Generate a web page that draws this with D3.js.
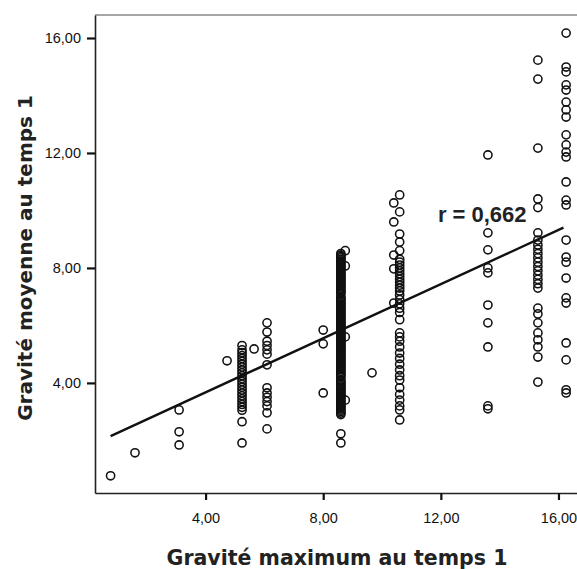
<!DOCTYPE html>
<html>
<head>
<meta charset="utf-8">
<script src="https://cdn.jsdelivr.net/npm/d3@7"></script>
<style>
  body { margin: 0; background: #fff; }
  svg { display: block; }
</style>
</head>
<body>
<svg id="chart" width="577" height="569"></svg>
<script>
// each column: one "gravité maximum" value and the "gravité moyenne" values
const colX = [0.77, 1.6, 3.1, 4.73, 5.24, 5.65, 6.09, 8.0, 8.6, 8.75, 9.66, 10.4, 10.6, 13.6, 15.3, 16.26];

const col0 = [0.77];
const col1 = [1.57];
const col2 = [3.06, 2.3, 1.84];
const col3 = [4.77];
const col4 = [5.3, 5.15, 5.05, 4.95, 4.85, 4.75, 4.65, 4.55, 4.45, 4.35, 4.25, 4.15, 4.05, 3.95,
  3.85, 3.75, 3.65, 3.55, 3.45, 3.35, 3.25, 3.15, 3.05, 2.65, 1.91];
const col5 = [5.18];
const col6 = [6.09, 5.77, 5.45, 5.3, 5.15, 5.0, 4.63, 3.83, 3.65, 3.5, 3.35, 3.2, 2.96, 2.4];
const col7 = [5.84, 5.36, 3.65];
const col8 = [8.5, 8.45, 8.4, 8.35, 8.3, 8.25, 8.2, 8.15, 8.1, 8.05, 8.0, 7.95, 7.9, 7.85, 7.8,
  7.75, 7.7, 7.65, 7.6, 7.55, 7.5, 7.45, 7.4, 7.35, 7.3, 7.25, 7.2, 7.15, 7.1, 7.0, 6.95,
  6.9, 6.85, 6.8, 6.75, 6.7, 6.65, 6.6, 6.55, 6.5, 6.45, 6.4, 6.35, 6.3, 6.25, 6.2, 6.15,
  6.1, 6.05, 6.0, 5.95, 5.9, 5.85, 5.8, 5.75, 5.7, 5.65, 5.6, 5.55, 5.5, 5.45, 5.4, 5.35,
  5.3, 5.25, 5.2, 5.15, 5.1, 5.05, 5.0, 4.95, 4.9, 4.85, 4.8, 4.75, 4.7, 4.65, 4.6, 4.55,
  4.5, 4.45, 4.4, 4.35, 4.3, 4.25, 4.2, 4.1, 4.05, 4.0, 3.95, 3.9, 3.85, 3.8, 3.75, 3.7,
  3.65, 3.6, 3.55, 3.5, 3.45, 3.4, 3.35, 3.3, 3.25, 3.2, 3.15, 3.1, 3.05, 3.0, 2.95, 2.9,
  2.23, 1.91];
const col9 = [8.6, 8.07, 5.6, 3.4];
const col10 = [4.35];
const col11 = [10.26, 9.6, 8.45, 7.97, 6.78];
const col12 = [10.54, 9.95, 9.18, 8.9, 8.6, 8.3, 8.2, 8.1, 8.0, 7.9, 7.8, 7.7, 7.6, 7.5, 7.4,
  7.3, 7.2, 7.06, 6.9, 6.75, 6.6, 6.45, 6.2, 5.74, 5.6, 5.45, 5.25, 5.04, 4.85, 4.65, 4.45,
  4.25, 4.1, 3.83, 3.6, 3.4, 3.2, 3.06, 2.71];
const col13 = [11.93, 9.22, 8.63, 8.0, 7.83, 6.71, 6.09, 5.25, 3.2, 3.1];
const col14 = [15.23, 14.57, 12.17, 10.4, 10.1, 9.22, 8.97, 8.8, 8.65, 8.5, 8.35, 8.2, 8.05,
  7.9, 7.75, 7.6, 7.45, 7.3, 6.6, 6.4, 6.09, 5.74, 5.5, 5.25, 4.9, 4.03];
const col15 = [16.17, 14.99, 14.82, 14.37, 14.19, 13.77, 13.5, 13.25, 12.63, 12.28, 12.03,
  11.86, 10.99, 10.36, 10.19, 8.97, 8.38, 8.2, 7.65, 6.96, 6.78, 5.39, 4.8, 3.76, 3.65];

const columns = [col0, col1, col2, col3, col4, col5, col6, col7, col8, col9, col10, col11, col12, col13, col14, col15];

// fit line end points and label
const fitX = [0.77, 16.17];
const fitY = [2.15, 9.4];
const rLabel = "r = 0,662";

const tickValues = [4, 8, 12, 16];
const xTitle = "Gravité maximum au temps 1";
const yTitle = "Gravité moyenne au temps 1";

const svg = d3.select("#chart");

const x = d3.scaleLinear().domain([0.24, 16.63]).range([95, 577]);
const y = d3.scaleLinear().domain([0.17, 16.8]).range([493, 15]);

const fmt = (d) => d3.format(".2f")(d).replace(".", ",");

const points = [];
columns.forEach((col, i) => col.forEach((v) => points.push([colX[i], v])));

// frame top
svg.append("line")
  .attr("x1", 95).attr("x2", 577)
  .attr("y1", 15).attr("y2", 15)
  .attr("stroke", "#888").attr("stroke-width", 1.5);

// points
svg.append("g")
  .selectAll("circle")
  .data(points)
  .join("circle")
  .attr("cx", (d) => x(d[0]))
  .attr("cy", (d) => y(d[1]))
  .attr("r", 4.1)
  .attr("fill", "none")
  .attr("stroke", "#111")
  .attr("stroke-width", 1.55);

// fit line
svg.append("path")
  .datum(fitX.map((d, i) => [d, fitY[i]]))
  .attr("d", d3.line().x((d) => x(d[0])).y((d) => y(d[1])))
  .attr("stroke", "#111")
  .attr("stroke-width", 2.4)
  .attr("fill", "none");

svg.append("text")
  .attr("x", x(11.9))
  .attr("y", y(9.6))
  .attr("font-family", "Liberation Sans, Arial, sans-serif")
  .attr("font-weight", "bold")
  .attr("font-size", 22)
  .attr("fill", "#222")
  .text(rLabel);

// axes
const yAxis = svg.append("g")
  .attr("transform", "translate(95,0)")
  .call(d3.axisLeft(y).tickValues(tickValues).tickFormat(fmt).tickSize(8).tickSizeOuter(0).tickPadding(6));

const xAxis = svg.append("g")
  .attr("transform", "translate(0,493)")
  .call(d3.axisBottom(x).tickValues(tickValues).tickFormat(fmt).tickSize(7).tickSizeOuter(0).tickPadding(13));

[xAxis, yAxis].forEach((g) => {
  g.select(".domain").attr("stroke", "#222").attr("stroke-width", 1.6);
  g.selectAll(".tick line").attr("stroke", "#111").attr("stroke-width", 2.2);
  g.selectAll(".tick text")
    .attr("font-family", "Liberation Sans, Arial, sans-serif")
    .attr("font-size", 14.5)
    .attr("fill", "#111");
});

// titles
svg.append("text")
  .attr("x", 337)
  .attr("y", 565)
  .attr("text-anchor", "middle")
  .attr("font-family", "DejaVu Sans, sans-serif")
  .attr("font-weight", "bold")
  .attr("font-size", 20.5)
  .attr("fill", "#222")
  .text(xTitle);

svg.append("text")
  .attr("transform", "translate(32,258) rotate(-90)")
  .attr("text-anchor", "middle")
  .attr("font-family", "DejaVu Sans, sans-serif")
  .attr("font-weight", "bold")
  .attr("font-size", 20)
  .attr("fill", "#222")
  .text(yTitle);
</script>
</body>
</html>
